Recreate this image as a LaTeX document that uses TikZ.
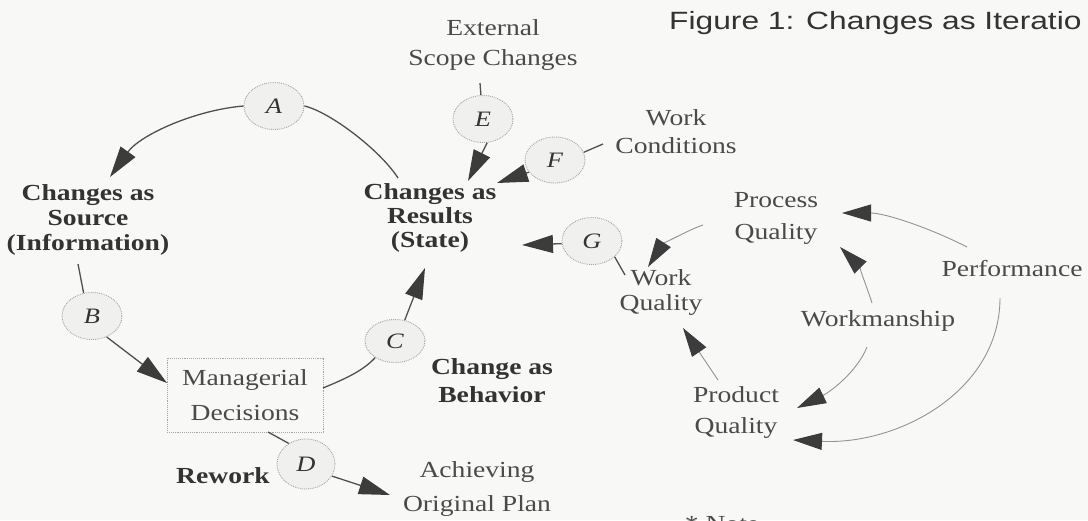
\documentclass[tikz,border=0pt]{standalone}
\usepackage{fontspec}
\setmainfont{Liberation Serif}[FakeStretch=1.2]
\newfontfamily\titlefont{Liberation Sans}[FakeStretch=1.27]
\usetikzlibrary{arrows.meta,shapes.geometric}
\definecolor{bg}{HTML}{F8F8F6}
\definecolor{txt}{HTML}{4A4A4A}
\definecolor{btxt}{HTML}{333333}
\definecolor{ln}{HTML}{505050}
\definecolor{lln}{HTML}{939393}
\definecolor{head}{HTML}{3C3C3C}
\definecolor{efill}{HTML}{F0F0EE}
\tikzset{
  lbl/.style={text=txt, align=center, inner sep=2pt, font=\fontsize{23}{#1}\selectfont},
  lbl/.default=28,
  blbl/.style={text=btxt, align=center, inner sep=2pt, font=\fontsize{23}{#1}\selectfont\bfseries},
  blbl/.default=25,
  oval/.style={ellipse, draw=gray!70, densely dotted, line width=0.9pt, fill=efill,
    minimum width=60pt, minimum height=47pt, inner sep=0pt,
    font=\fontsize{22}{24}\selectfont\itshape, text=btxt},
  decbox/.style={draw=gray!70, densely dotted, line width=0.9pt, minimum width=156pt,
    minimum height=74pt, align=center, text=txt, font=\fontsize{23}{35}\selectfont},
  conn/.style={draw=ln, line width=1.3pt},
  lconn/.style={draw=lln, line width=0.9pt},
  tipL/.style={-{Triangle[length=31pt,width=18pt,color=head]}},
  tipR/.style={-{Triangle[length=29pt,width=17pt,color=head]}},
}
\begin{document}
\begin{tikzpicture}[x=1pt,y=-1pt]
\useasboundingbox (0,0) rectangle (1088,520);
\fill[bg] (0,0) rectangle (1088,520);
\clip (0,0) rectangle (1088,520);

% title
\node[anchor=west, inner sep=0pt, text=btxt, font=\titlefont\fontsize{25}{27}\selectfont] (title) at (669,23) {Figure 1: Changes as Iteratio};

% labels
\node[blbl=25] (src) at (88,220) {Changes as\\Source\\(Information)};
\node[blbl=24] (res) at (430,218) {Changes as\\Results\\(State)};
\node[blbl=28] (beh) at (492,381) {Change as\\Behavior};
\node[blbl] (rew) at (223,476) {Rework};
\node[decbox] (mgr) at (245,395) {Managerial\\Decisions};
\node[lbl=34] (ach) at (477,489) {Achieving\\Original Plan};
\node[lbl=30] (ext) at (493,45) {External\\Scope Changes};
\node[lbl=28] (wc) at (676,132) {Work\\Conditions};
\node[lbl=32] (pq) at (776,218) {Process\\Quality};
\node[lbl=25] (wq) at (661,292) {Work\\Quality};
\node[lbl] (perf) at (1012,269) {Performance};
\node[lbl] (wm) at (878,321) {Workmanship};
\node[lbl=31] (prq) at (736,412) {Product\\Quality};
\node[lbl] (note) at (722,524) {* Note};

% ovals
\node[oval] (A) at (274,106) {A};
\node[oval] (B) at (92,316) {B};
\node[oval, minimum height=43pt] (C) at (395,341) {C};
\node[oval, minimum width=58pt, minimum height=50pt] (D) at (306,464) {D};
\node[oval] (E) at (483,119) {E};
\node[oval, minimum height=46pt] (F) at (555,160) {F};
\node[oval] (G) at (592,241) {G};

% connector ends
\coordinate (r1) at (398,178);
\coordinate (srctip) at (110,177);
\coordinate (s1) at (78,264);
\coordinate (mgrtip) at (167,383);
\coordinate (m1) at (323,388);
\coordinate (ctip) at (425,268);
\coordinate (m2) at (268,432);
\coordinate (dtip) at (390,495);
\coordinate (e1) at (480,83);
\coordinate (etip) at (468,181);
\coordinate (f1) at (603,144);
\coordinate (ftip) at (497,183);
\coordinate (gtip) at (522,245);
\coordinate (g1) at (625,275);
\coordinate (p1) at (703,225);
\coordinate (wqtip) at (648,267);
\coordinate (pf1) at (967,247);
\coordinate (pqtip1) at (842,213);
\coordinate (wm1) at (872,303);
\coordinate (pqtip2) at (840,247);
\coordinate (wm2) at (867,347);
\coordinate (prtip1) at (797,408);
\coordinate (pf2) at (1000,298);
\coordinate (prtip2) at (793,440);
\coordinate (pr1) at (718,380);
\coordinate (wqtip2) at (683,328);

% left loop
\draw[conn] (r1) .. controls (380,150) and (330,112) .. (A.east);
\draw[conn,tipL] (A.west) .. controls (195,110) and (140,135) .. (srctip);
\draw[conn] (s1) -- (B.110);
\draw[conn,tipL] (B.-55) -- (mgrtip);
\draw[conn] (m1) .. controls (342,380) and (362,372) .. (C.-140);
\draw[conn,tipL] (C.65) -- (ctip);
\draw[conn] (m2) -- (D.130);
\draw[conn,tipL] (D.-25) -- (dtip);
\draw[conn] (e1) -- (E.95);
\draw[conn,tipL] (E.-80) -- (etip);
\draw[conn] (F.15) -- (f1);
\draw[conn,tipL] (F.-155) -- (ftip);
\draw[conn,tipL] (G.185) -- (gtip);
\draw[conn] (G.-35) -- (g1);

% right cluster
\draw[lconn,tipR] (p1) .. controls (688,230) and (662,245) .. (wqtip);
\draw[lconn,tipR] (pf1) .. controls (930,228) and (885,213) .. (pqtip1);
\draw[lconn,tipR] (wm1) .. controls (868,290) and (858,265) .. (pqtip2);
\draw[lconn,tipR] (wm2) .. controls (857,372) and (830,392) .. (prtip1);
\draw[lconn,tipR] (pf2) .. controls (1000,390) and (900,445) .. (prtip2);
\draw[lconn,tipR] (pr1) -- (wqtip2);
\end{tikzpicture}
\end{document}
